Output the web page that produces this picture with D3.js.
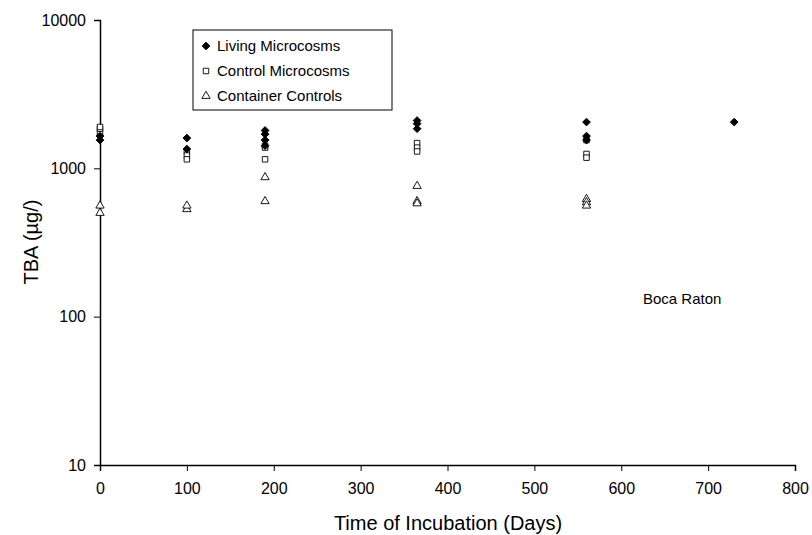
<!DOCTYPE html>
<html><head><meta charset="utf-8">
<script src="https://cdn.jsdelivr.net/npm/d3@7"></script>
<style>body{margin:0;background:#fff}text{font-family:Arial,"Liberation Sans",sans-serif}</style>
</head><body><svg id="c" width="812" height="535"></svg>
<script>
const living = [[0,1550],[0,1650],[100,1600],[100,1350],[190,1800],[190,1700],[190,1550],[190,1420],[365,2100],[365,2000],[365,1850],[560,2050],[560,1650],[560,1550],[730,2050]];
const control = [[0,1750],[0,1850],[0,1900],[100,1300],[100,1220],[100,1150],[190,1420],[190,1380],[190,1150],[365,1480],[365,1380],[365,1300],[560,1550],[560,1250],[560,1180]];
const container = [[0,500],[0,560],[100,530],[100,560],[190,870],[190,600],[365,760],[365,600],[365,580],[560,620],[560,590],[560,560]];
const xTicks = [0,100,200,300,400,500,600,700,800];
const yTicks = [10,100,1000,10000];

const svg = d3.select("#c");
const x = d3.scaleLinear().domain([0,800]).range([100,795]);
const y = d3.scaleLog().domain([10,10000]).range([465,20]);

svg.append("g").attr("transform","translate(0,465)")
  .call(d3.axisBottom(x).tickValues(xTicks).tickSize(6).tickPadding(12))
  .call(g=>g.selectAll("text").attr("font-size",16).attr("fill","#000"));
svg.append("g").attr("transform","translate(100,0)")
  .call(d3.axisLeft(y).tickValues(yTicks).tickFormat(d3.format("d")).tickSize(6).tickPadding(8))
  .call(g=>g.selectAll("text").attr("font-size",16).attr("fill","#000"));
svg.selectAll(".domain").attr("stroke","#000").attr("stroke-width",1.5);
svg.selectAll(".tick line").attr("stroke","#000");

svg.append("text").attr("x",448).attr("y",530).attr("text-anchor","middle").attr("font-size",20).text("Time of Incubation (Days)");
svg.append("text").attr("transform","translate(38,242) rotate(-90)").attr("text-anchor","middle").attr("font-size",20).text("TBA (µg/)");
svg.append("text").attr("x",643).attr("y",304).attr("font-size",15).text("Boca Raton");

const sym = {
  living: {t:d3.symbolSquare, s:30, fill:"#000", r:45},
  control:{t:d3.symbolSquare, s:30, fill:"#fff", r:0},
  container:{t:d3.symbolTriangle, s:30, fill:"#fff", r:0}
};
function draw(data, k){
  svg.append("g").selectAll("path").data(data).join("path")
    .attr("d", d3.symbol(sym[k].t, sym[k].s))
    .attr("transform", d=>`translate(${x(d[0])},${y(d[1])}) rotate(${sym[k].r})`)
    .attr("fill", sym[k].fill).attr("stroke","#000").attr("stroke-width",0.9);
}
draw(container,"container"); draw(control,"control"); draw(living,"living");

const lg = svg.append("g");
lg.append("rect").attr("x",193).attr("y",30).attr("width",199).attr("height",80).attr("fill","#fff").attr("stroke","#000");
[["Living Microcosms","living"],["Control Microcosms","control"],["Container Controls","container"]].forEach((e,i)=>{
  const cy = 46 + i*25;
  lg.append("path").attr("d", d3.symbol(sym[e[1]].t, sym[e[1]].s)).attr("transform",`translate(206,${cy}) rotate(${sym[e[1]].r})`)
    .attr("fill", sym[e[1]].fill).attr("stroke","#000").attr("stroke-width",0.9);
  lg.append("text").attr("x",217).attr("y",cy+5).attr("font-size",15).text(e[0]);
});
</script></body></html>
